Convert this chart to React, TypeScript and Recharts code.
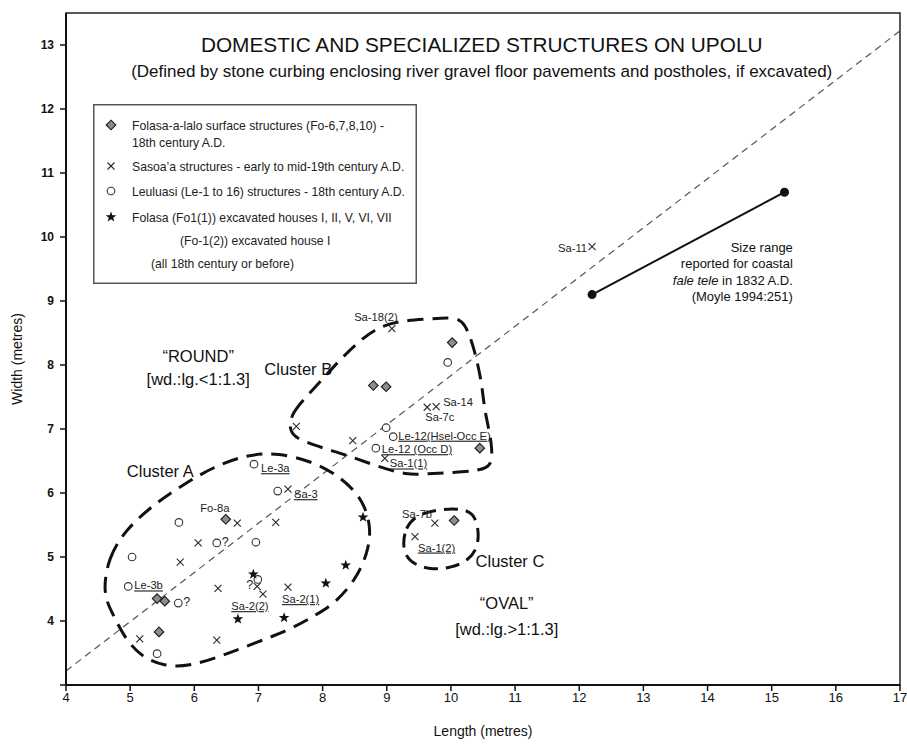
import React from 'react';
import { ComposedChart, XAxis, YAxis, Line, Scatter, ReferenceArea, Legend, Label } from 'recharts';

const FONT = '"Liberation Sans", Arial, Helvetica, sans-serif';
const NARROW = '"Liberation Sans Narrow", "Liberation Sans", Arial, sans-serif';

const xTicks = [4, 5, 6, 7, 8, 9, 10, 11, 12, 13, 14, 15, 16, 17];
const yTicks = [3, 4, 5, 6, 7, 8, 9, 10, 11, 12, 13];

// Folasa-a-lalo surface structures (diamonds)
const folasaSurface = [
  { x: 6.49, y: 5.59, label: 'Fo-8a' },
  { x: 5.42, y: 4.35 },
  { x: 5.54, y: 4.31 },
  { x: 5.45, y: 3.83 },
  { x: 8.79, y: 7.68 },
  { x: 8.99, y: 7.66 },
  { x: 10.02, y: 8.35 },
  { x: 10.45, y: 6.7 },
  { x: 10.05, y: 5.57 },
];

// Sasoa'a structures (crosses)
const sasoa = [
  { x: 12.2, y: 9.85, label: 'Sa-11' },
  { x: 9.08, y: 8.57, label: 'Sa-18(2)' },
  { x: 7.59, y: 7.04 },
  { x: 8.47, y: 6.82 },
  { x: 9.63, y: 7.34, label: 'Sa-7c' },
  { x: 9.77, y: 7.35, label: 'Sa-14' },
  { x: 8.97, y: 6.54, label: 'Sa-1(1)' },
  { x: 9.75, y: 5.53, label: 'Sa-7b' },
  { x: 9.44, y: 5.32, label: 'Sa-1(2)' },
  { x: 7.46, y: 6.06, label: 'Sa-3' },
  { x: 6.67, y: 5.53 },
  { x: 7.27, y: 5.54 },
  { x: 6.06, y: 5.22 },
  { x: 5.78, y: 4.92 },
  { x: 6.37, y: 4.51 },
  { x: 6.98, y: 4.54, q: true },
  { x: 7.07, y: 4.42, label: 'Sa-2(2)' },
  { x: 7.46, y: 4.53, label: 'Sa-2(1)' },
  { x: 5.15, y: 3.72 },
  { x: 6.35, y: 3.7 },
];

// Leuluasi structures (open circles)
const leuluasi = [
  { x: 6.93, y: 6.45, label: 'Le-3a' },
  { x: 7.3, y: 6.03 },
  { x: 5.76, y: 5.54 },
  { x: 6.35, y: 5.22, q: true },
  { x: 6.96, y: 5.23 },
  { x: 5.03, y: 5.0 },
  { x: 4.97, y: 4.54, label: 'Le-3b' },
  { x: 5.75, y: 4.28, q: true },
  { x: 5.42, y: 3.49 },
  { x: 6.99, y: 4.65 },
  { x: 9.95, y: 8.04 },
  { x: 8.99, y: 7.02 },
  { x: 9.1, y: 6.88, label: 'Le-12(Hsel-Occ E)' },
  { x: 8.83, y: 6.7, label: 'Le-12 (Occ D)' },
];

// Folasa excavated houses (stars)
const folasaExcavated = [
  { x: 6.92, y: 4.73 },
  { x: 6.68, y: 4.03 },
  { x: 7.4, y: 4.05 },
  { x: 8.05, y: 4.59 },
  { x: 8.36, y: 4.87 },
  { x: 8.63, y: 5.62 },
];

// fale tele size range (Moyle 1994)
const sizeRange = [
  { x: 12.2, y: 9.1 },
  { x: 15.2, y: 10.7 },
];

// wd.:lg. = 1:1.3 guide
const ratioLine = [
  { x: 4, y: 3.22 },
  { x: 17, y: 13.22 },
];

const clusterAOutline = [
  { x: 4.57, y: 4.43 }, { x: 4.66, y: 5.0 }, { x: 4.94, y: 5.44 }, { x: 5.39, y: 5.84 },
  { x: 5.86, y: 6.15 }, { x: 6.3, y: 6.41 }, { x: 6.82, y: 6.6 }, { x: 7.3, y: 6.63 },
  { x: 7.89, y: 6.48 }, { x: 8.32, y: 6.22 }, { x: 8.64, y: 5.88 }, { x: 8.76, y: 5.44 },
  { x: 8.7, y: 5.06 }, { x: 8.53, y: 4.67 }, { x: 8.21, y: 4.29 }, { x: 7.89, y: 4.09 },
  { x: 7.48, y: 3.86 }, { x: 6.93, y: 3.65 }, { x: 6.39, y: 3.44 }, { x: 5.91, y: 3.29 },
  { x: 5.54, y: 3.29 }, { x: 5.15, y: 3.45 }, { x: 4.89, y: 3.78 }, { x: 4.73, y: 4.11 },
];

const clusterBOutline = [
  { x: 7.47, y: 6.93 }, { x: 7.5, y: 7.25 }, { x: 7.85, y: 7.61 }, { x: 8.22, y: 8.03 },
  { x: 8.54, y: 8.35 }, { x: 8.86, y: 8.59 }, { x: 9.2, y: 8.69 }, { x: 9.68, y: 8.72 },
  { x: 10.06, y: 8.75 }, { x: 10.22, y: 8.66 }, { x: 10.36, y: 8.27 }, { x: 10.48, y: 7.74 },
  { x: 10.52, y: 7.31 }, { x: 10.6, y: 6.97 }, { x: 10.64, y: 6.7 }, { x: 10.64, y: 6.43 },
  { x: 10.45, y: 6.35 }, { x: 10.04, y: 6.32 }, { x: 9.63, y: 6.3 }, { x: 9.31, y: 6.28 },
  { x: 8.87, y: 6.41 }, { x: 8.44, y: 6.57 }, { x: 8.08, y: 6.68 }, { x: 7.71, y: 6.8 },
];

const clusterCOutline = [
  { x: 9.25, y: 5.2 }, { x: 9.29, y: 5.45 }, { x: 9.45, y: 5.65 }, { x: 9.78, y: 5.74 },
  { x: 10.11, y: 5.76 }, { x: 10.36, y: 5.7 }, { x: 10.44, y: 5.39 }, { x: 10.41, y: 5.14 },
  { x: 10.28, y: 4.95 }, { x: 10.0, y: 4.83 }, { x: 9.72, y: 4.8 }, { x: 9.45, y: 4.87 },
  { x: 9.3, y: 5.0 },
];

const notes = [
  { x: 10.48, y: 12.89, text: 'DOMESTIC AND SPECIALIZED STRUCTURES ON UPOLU', kind: 'title' },
  { x: 10.48, y: 12.5, text: '(Defined by stone curbing enclosing river gravel floor pavements and postholes, if excavated)', kind: 'subtitle' },
  { x: 6.06, y: 8.04, text: '“ROUND”', kind: 'zone' },
  { x: 6.06, y: 7.69, text: '[wd.:lg.<1:1.3]', kind: 'zone' },
  { x: 10.87, y: 4.18, text: '“OVAL”', kind: 'zone' },
  { x: 10.87, y: 3.78, text: '[wd.:lg.>1:1.3]', kind: 'zone' },
  { x: 7.62, y: 7.84, text: 'Cluster B', kind: 'cluster' },
  { x: 5.47, y: 6.25, text: 'Cluster A', kind: 'cluster' },
  { x: 10.92, y: 4.85, text: 'Cluster C', kind: 'cluster' },
  { x: 15.33, y: 9.77, text: 'Size range', kind: 'range' },
  { x: 15.33, y: 9.51, text: 'reported for coastal', kind: 'range' },
  { x: 15.33, y: 9.25, text: '*fale tele* in 1832 A.D.', kind: 'range' },
  { x: 15.33, y: 9.0, text: '(Moyle 1994:251)', kind: 'range' },
];

const legendItems = [
  { kind: 'diamond', lines: ['Folasa-a-lalo surface structures (Fo-6,7,8,10) -', '18th century A.D.'] },
  { kind: 'cross', lines: ['Sasoa’a structures - early to mid-19th century A.D.'] },
  { kind: 'circle', lines: ['Leuluasi (Le-1 to 16) structures - 18th century A.D.'] },
  { kind: 'star', lines: ['Folasa (Fo1(1)) excavated houses I, II, V, VI, VII', '(Fo-1(2)) excavated house I', '(all 18th century or before)'] },
];

// label placement relative to the marker (px)
const labelPlacement = {
  'Fo-8a': { dx: -11, dy: -7, anchor: 'middle' },
  'Le-3a': { dx: 7, dy: 8, anchor: 'start', underline: true },
  'Sa-3': { dx: 6, dy: 9, anchor: 'start', underline: true },
  'Le-3b': { dx: 6, dy: 3, anchor: 'start', underline: true },
  'Sa-2(2)': { dx: -13, dy: 16, anchor: 'middle', underline: true },
  'Sa-2(1)': { dx: -6, dy: 16, anchor: 'start', underline: true },
  'Sa-18(2)': { dx: -16, dy: -8, anchor: 'middle' },
  'Sa-14': { dx: 7, dy: -1, anchor: 'start' },
  'Sa-7c': { dx: -2, dy: 14, anchor: 'start' },
  'Le-12(Hsel-Occ E)': { dx: 5, dy: 3, anchor: 'start', underline: true },
  'Le-12 (Occ D)': { dx: 6, dy: 5, anchor: 'start', underline: true },
  'Sa-1(1)': { dx: 5, dy: 9, anchor: 'start', underline: true },
  'Sa-7b': { dx: -3, dy: -5, anchor: 'end' },
  'Sa-1(2)': { dx: 3, dy: 15, anchor: 'start', underline: true },
  'Sa-11': { dx: -5, dy: 5, anchor: 'end' },
};

const noteStyle = {
  title: { fontSize: 20.8, anchor: 'middle' },
  subtitle: { fontSize: 17, anchor: 'middle' },
  zone: { fontSize: 16.5, anchor: 'middle' },
  cluster: { fontSize: 16.5, anchor: 'middle' },
  range: { fontSize: 13, anchor: 'end' },
};

const starPoints = (cx: number, cy: number, R: number, r: number) => {
  const pts: string[] = [];
  for (let i = 0; i < 10; i++) {
    const a = -Math.PI / 2 + (i * Math.PI) / 5;
    const rad = i % 2 === 0 ? R : r;
    pts.push(`${cx + rad * Math.cos(a)},${cy + rad * Math.sin(a)}`);
  }
  return pts.join(' ');
};

function Marker({ kind, cx, cy }: { kind: string; cx: number; cy: number }) {
  if (kind === 'diamond') {
    const s = 4.8;
    return <polygon points={`${cx},${cy - s} ${cx + s},${cy} ${cx},${cy + s} ${cx - s},${cy}`} fill="#8c8c8c" stroke="#1a1a1a" strokeWidth={1.1} />;
  }
  if (kind === 'cross') {
    const s = 3.5;
    return (
      <g stroke="#2a2a2a" strokeWidth={1.1}>
        <line x1={cx - s} y1={cy - s} x2={cx + s} y2={cy + s} />
        <line x1={cx - s} y1={cy + s} x2={cx + s} y2={cy - s} />
      </g>
    );
  }
  if (kind === 'circle') return <circle cx={cx} cy={cy} r={3.8} fill="#fff" stroke="#333" strokeWidth={1.1} />;
  return <polygon points={starPoints(cx, cy, 5.6, 2.3)} fill="#111" />;
}

const makeShape = (kind: string) => (props: any) => {
  const { cx, cy, payload } = props;
  if (cx == null || cy == null) return <g />;
  const place = payload.label ? labelPlacement[payload.label] : null;
  return (
    <g>
      <Marker kind={kind} cx={cx} cy={cy} />
      {place && (
        <text
          x={cx + place.dx}
          y={cy + place.dy}
          textAnchor={place.anchor}
          fontSize={11.2}
          fontFamily={FONT}
          fill="#222"
          style={{ textDecoration: place.underline ? 'underline' : 'none' }}
        >
          {payload.label}
        </text>
      )}
      {payload.q && (
        <text
          x={kind === 'cross' ? cx - 4 : cx + 5}
          y={cy + 3}
          textAnchor={kind === 'cross' ? 'end' : 'start'}
          fontSize={12.5}
          fontFamily={FONT}
          fill="#222"
        >
          ?
        </text>
      )}
    </g>
  );
};

const renderNote = (props: any) => {
  const { cx, cy, payload } = props;
  if (cx == null || cy == null) return <g />;
  const st = noteStyle[payload.kind];
  const parts = String(payload.text).split('*');
  return (
    <text x={cx} y={cy} textAnchor={st.anchor} fontSize={st.fontSize} fontFamily={FONT} fill="#111">
      {parts.map((p, i) => (
        <tspan key={i} fontStyle={i % 2 === 1 ? 'italic' : 'normal'}>{p}</tspan>
      ))}
    </text>
  );
};

const legendRowY = [21, 38, 62, 87, 113, 136, 159];
const legendIndent = [39, 39, 39, 39, 39, 87, 58];

const renderLegend = () => {
  let row = 0;
  return (
    <svg width={324} height={180} style={{ display: 'block', overflow: 'visible' }}>
      <rect x={0.75} y={0.75} width={322.5} height={178.5} fill="#fff" stroke="#555" strokeWidth={1.5} />
      {legendItems.map((item) => {
        const first = row;
        const texts = item.lines.map((line) => {
          const r = row++;
          return (
            <text key={r} x={legendIndent[r]} y={legendRowY[r] + 4.5} fontSize={12.2} fontFamily={FONT} fill="#222">
              {line}
            </text>
          );
        });
        return (
          <g key={item.kind}>
            <Marker kind={item.kind} cx={18} cy={legendRowY[first]} />
            {texts}
          </g>
        );
      })}
    </svg>
  );
};

const renderYLabel = (props: any) => {
  const vb = props.viewBox;
  const x = vb.x + 11;
  const y = vb.y + vb.height / 2 + 10;
  return (
    <text x={x} y={y} transform={`rotate(-90 ${x} ${y})`} textAnchor="middle" dominantBaseline="central" fontSize={14} fontFamily={FONT} fill="#111">
      Width (metres)
    </text>
  );
};

export default function App() {
  return (
    <div style={{ position: 'absolute', left: 0, top: 0, width: 907, height: 744, background: '#fff' }}>
      <ComposedChart width={907} height={744} margin={{ top: 13, right: 7, bottom: 4, left: 6 }}>
        <XAxis
          type="number"
          dataKey="x"
          domain={[4, 17]}
          ticks={xTicks}
          interval={0}
          allowDataOverflow
          height={55}
          tickSize={6}
          axisLine={{ stroke: '#111', strokeWidth: 2 }}
          tickLine={{ stroke: '#111', strokeWidth: 1.5 }}
          tick={{ fontSize: 13, fill: '#111', fontFamily: NARROW }}
        >
          <Label value="Length (metres)" position="insideBottom" offset={4} style={{ fontSize: 14, fill: '#111', fontFamily: NARROW }} />
        </XAxis>
        <YAxis
          type="number"
          dataKey="y"
          domain={[3, 13.5]}
          ticks={yTicks}
          interval={0}
          allowDataOverflow
          width={60}
          tickSize={6}
          tickMargin={6}
          tickFormatter={(v) => (v === 3 ? '' : String(v))}
          axisLine={{ stroke: '#111', strokeWidth: 2 }}
          tickLine={{ stroke: '#111', strokeWidth: 1.5 }}
          tick={{ fontSize: 12, fill: '#111', fontFamily: FONT, fontWeight: 'bold' }}
        >
          <Label content={renderYLabel} />
        </YAxis>
        <ReferenceArea x1={4} x2={17} y1={3} y2={13.5} fill="none" stroke="#222" strokeWidth={1.5} ifOverflow="visible" />
        <Legend
          content={renderLegend}
          layout="horizontal"
          verticalAlign="middle"
          align="center"
          wrapperStyle={{ left: 93, top: 104, width: 324, height: 180 }}
        />
        <Line data={ratioLine} dataKey="y" type="linear" stroke="#555" strokeWidth={1.2} strokeDasharray="7 5" dot={false} activeDot={false} isAnimationActive={false} legendType="none" />
        <Line data={clusterAOutline} dataKey="y" type="basisClosed" stroke="#111" strokeWidth={3} strokeDasharray="16 9" dot={false} activeDot={false} isAnimationActive={false} legendType="none" />
        <Line data={clusterBOutline} dataKey="y" type="basisClosed" stroke="#111" strokeWidth={3} strokeDasharray="16 9" dot={false} activeDot={false} isAnimationActive={false} legendType="none" />
        <Line data={clusterCOutline} dataKey="y" type="basisClosed" stroke="#111" strokeWidth={3} strokeDasharray="14 8" dot={false} activeDot={false} isAnimationActive={false} legendType="none" />
        <Line data={sizeRange} dataKey="y" type="linear" stroke="#111" strokeWidth={2} dot={{ r: 3.5, fill: '#111', stroke: '#111' }} activeDot={false} isAnimationActive={false} legendType="none" />
        <Scatter data={folasaSurface} shape={makeShape('diamond')} isAnimationActive={false} legendType="none" />
        <Scatter data={sasoa} shape={makeShape('cross')} isAnimationActive={false} legendType="none" />
        <Scatter data={leuluasi} shape={makeShape('circle')} isAnimationActive={false} legendType="none" />
        <Scatter data={folasaExcavated} shape={makeShape('star')} isAnimationActive={false} legendType="none" />
        <Scatter data={notes} shape={renderNote} isAnimationActive={false} legendType="none" />
      </ComposedChart>
    </div>
  );
}
